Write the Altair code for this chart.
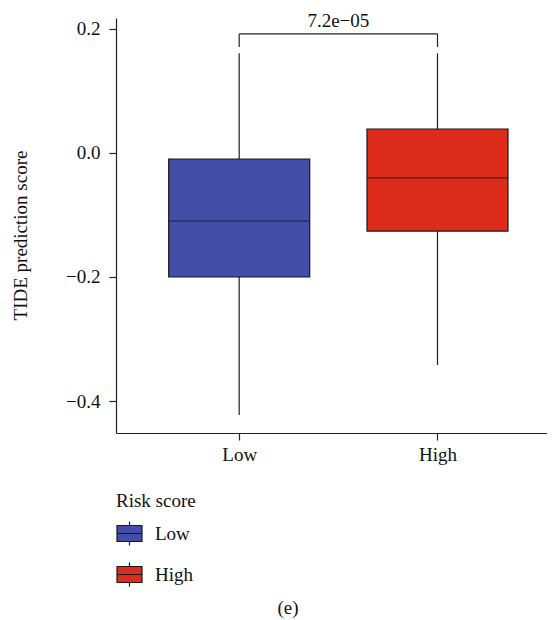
import json
import altair as alt
import pandas as pd

groups = ["Low", "High"]
colors = ["#434EA8", "#DD2C1C"]
whisk_lo = [-0.4226, -0.342]
q1 = [-0.200, -0.126]
median = [-0.110, -0.040]
q3 = [-0.0097, 0.0387]
whisk_hi = [0.161, 0.161]

p_label = "7.2e\u221205"
bracket_y = 0.192
bracket_tip = 0.171
caption = "(e)"

pos = list(range(1, len(groups) + 1))
df = pd.DataFrame({"group": groups, "pos": pos, "lo": whisk_lo, "q1": q1,
                   "med": median, "q3": q3, "hi": whisk_hi})
br = pd.DataFrame({"pos": pos, "y": [bracket_y] * 2, "y2": [bracket_tip] * 2})
br_h = pd.DataFrame({"p1": [pos[0]], "p2": [pos[1]], "mid": [(pos[0] + pos[1]) / 2],
                     "y": [bracket_y], "label": [p_label]})

FONT = "Liberation Serif"
FS = 19
BOX = 141
INK = "#1a1a1a"

xscale = alt.Scale(domain=[0.404, 2.527], nice=False, zero=False)
yscale = alt.Scale(domain=[-0.4516, 0.2177], nice=False, zero=False)

x = alt.X("pos:Q", scale=xscale,
          axis=alt.Axis(title=None, values=pos, grid=False,
                        labelExpr=json.dumps(groups) + "[datum.value - 1]",
                        labelAngle=0, tickSize=7, labelPadding=5,
                        labelFontSize=FS, domainColor="#222", tickColor="#222",
                        domainWidth=1.2, tickWidth=1.2,
                        labelColor="#111", labelFont=FONT))
y = alt.Y("lo:Q", scale=yscale,
          axis=alt.Axis(title="TIDE prediction score", values=[-0.4, -0.2, 0.0, 0.2],
                        format=".1f", grid=False, tickSize=7, labelPadding=9,
                        labelFontSize=FS, titleFontSize=FS, titleFontWeight="normal",
                        titleX=-96, titleY=217, titleAngle=-90, titleAlign="center",
                        titleBaseline="middle", domainColor="#222", tickColor="#222",
                        domainWidth=1.2, tickWidth=1.2,
                        labelColor="#111", titleColor="#111", labelFont=FONT,
                        titleFont=FONT))

whisk = alt.Chart(df).mark_rule(color="#222", strokeWidth=1.2).encode(
    x=x, y=y, y2="hi:Q")

sym = "M-1,-0.64H1V0.64H-1Z M-1,0H1 M0,-0.64V-0.96 M0,0.64V0.96"
box = alt.Chart(df).mark_bar(size=BOX, stroke=INK, strokeWidth=1.2).encode(
    x=alt.X("pos:Q", scale=xscale),
    y=alt.Y("q1:Q", scale=yscale),
    y2="q3:Q",
    color=alt.Color("group:N", scale=alt.Scale(domain=groups, range=colors),
                    legend=alt.Legend(title="Risk score", orient="none", legendX=0,
                                      legendY=474, symbolType=sym, symbolSize=625,
                                      symbolStrokeColor=INK, symbolStrokeWidth=1.2,
                                      symbolOpacity=1, labelFontSize=FS, titleFontSize=FS,
                                      titleFontWeight="normal", titleFont=FONT,
                                      labelFont=FONT, labelOffset=12, rowPadding=12,
                                      titlePadding=9, labelColor="#111",
                                      titleColor="#111"))
)

med = alt.Chart(df).mark_tick(size=BOX, thickness=1.3, color=INK,
                              orient="horizontal").encode(
    x=alt.X("pos:Q", scale=xscale),
    y=alt.Y("med:Q", scale=yscale))

legs = alt.Chart(br).mark_rule(color="#222", strokeWidth=1.2).encode(
    x=alt.X("pos:Q", scale=xscale),
    y=alt.Y("y:Q", scale=yscale), y2="y2:Q")

top = alt.Chart(br_h).mark_rule(color="#222", strokeWidth=1.2).encode(
    x=alt.X("p1:Q", scale=xscale), x2="p2:Q",
    y=alt.Y("y:Q", scale=yscale))

txt = alt.Chart(br_h).mark_text(font=FONT, fontSize=FS, dy=-7, baseline="alphabetic",
                                align="center", color="#111").encode(
    x=alt.X("mid:Q", scale=xscale),
    y=alt.Y("y:Q", scale=yscale),
    text="label:N")

cap = alt.Chart(pd.DataFrame({"t": [caption]})).mark_text(
    font=FONT, fontSize=FS, baseline="alphabetic", align="center", color="#111"
).encode(x=alt.value(172), y=alt.value(596), text="t:N")

chart = alt.layer(whisk, box, med, legs, top, txt, cap).properties(
    width=431, height=415,
    padding={"left": 108, "top": 10, "right": 0, "bottom": 187},
    autosize=alt.AutoSizeParams(type="none"),
).configure_view(stroke=None, clip=False).configure_axis(labelFont=FONT, titleFont=FONT)

chart.save("out.html", embed_options={"renderer": "svg", "actions": False})
